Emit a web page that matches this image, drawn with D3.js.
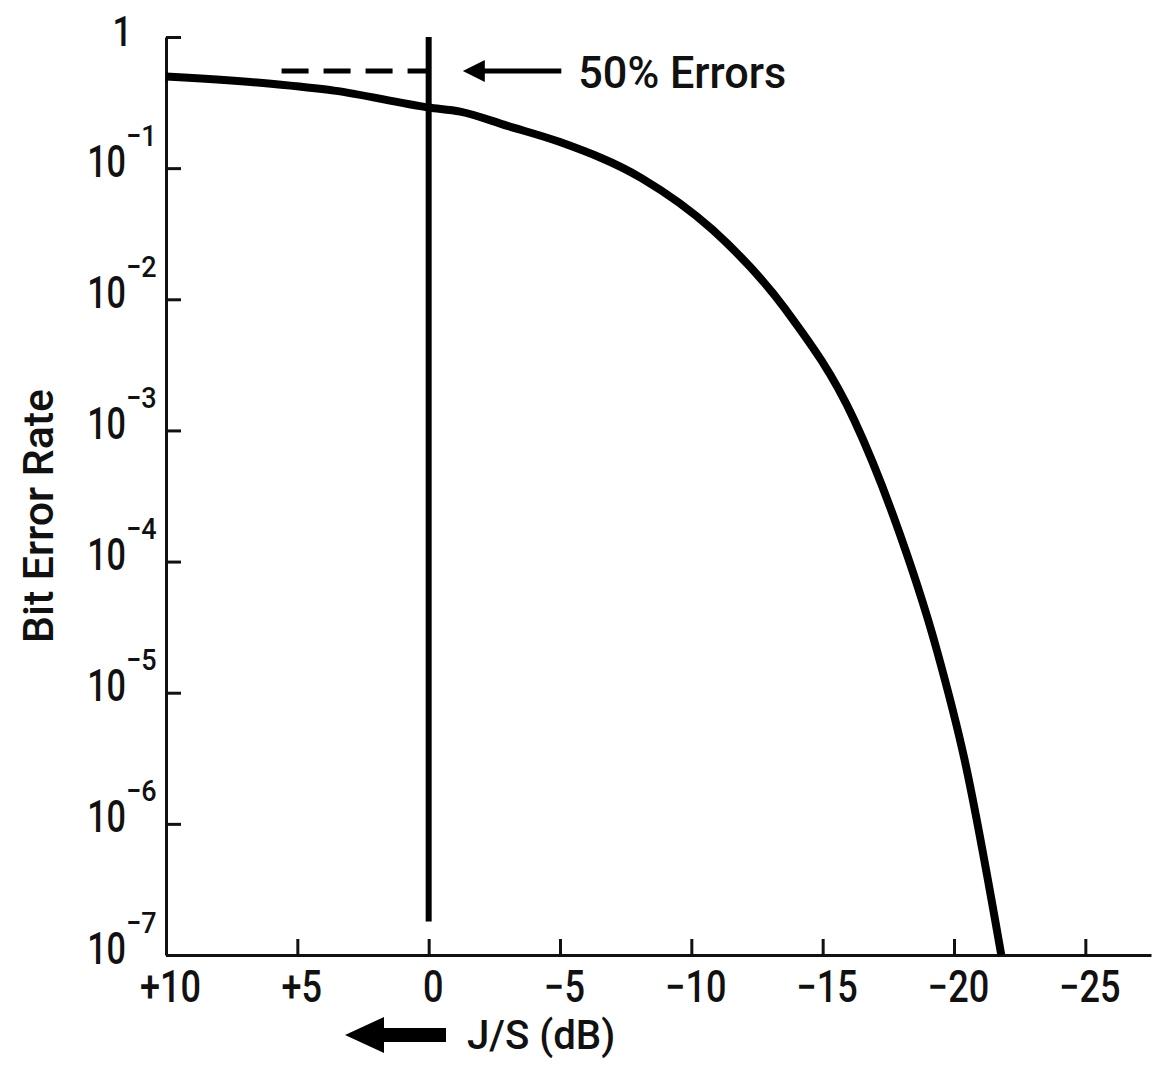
<!DOCTYPE html>
<html>
<head>
<meta charset="utf-8">
<script src="https://cdn.jsdelivr.net/npm/d3@7/dist/d3.min.js"></script>
<style>
  html, body { margin: 0; padding: 0; background: #fff; }
  svg { display: block; }
  text { font-family: Roboto, 'Liberation Sans', sans-serif; font-weight: 500; fill: #111; }
</style>
</head>
<body>
<script>
// ---- data ----
const jsDb = [10, 6, 3.6, 0, -1.2, -3, -5, -8.1, -10.8, -13.6, -16.2, -17.7, -19.35, -20.4, -21.8];
const ber  = [0.5, 0.44, 0.39, 0.29, 0.27, 0.21, 0.158, 0.084, 0.034, 0.0083, 0.0012, 2.2e-4, 2.1e-5, 3.1e-6, 1e-7];
const xTickValues = [10, 5, 0, -5, -10, -15, -20, -25];
const xTickLabels = ["+10", "+5", "0", "\u22125", "\u221210", "\u221215", "\u221220", "\u221225"];
const yTickValues = [1, 1e-1, 1e-2, 1e-3, 1e-4, 1e-5, 1e-6, 1e-7];
const yTickBase   = ["1", "10", "10", "10", "10", "10", "10", "10"];
const yTickExp    = ["", "\u22121", "\u22122", "\u22123", "\u22124", "\u22125", "\u22126", "\u22127"];
const refLineDb = 0;              // vertical line at J/S = 0 dB
const refLineBer = [1, 1.8e-7];   // its extent
const halfLineDb = [5.6, 0];      // dashed 50% errors line
const halfLineBer = 0.55;
const arrowDb = [-1.3, -5.05];    // annotation arrow
const annotText = "50% Errors";
const xTitle = "J/S (dB)";
const yTitle = "Bit Error Rate";

const W = 1166, H = 1075;
const svg = d3.select("body").append("svg").attr("width", W).attr("height", H);

function txt(parent, str, px, py, size, anchor, sx, extra) {
  return parent.append("text")
    .attr("transform", `translate(${px},${py}) ${extra || ""} scale(${sx},1)`)
    .attr("text-anchor", anchor || "start")
    .attr("font-size", size)
    .text(str);
}

const x = d3.scaleLinear().domain([10, -27.5]).range([166, 1151]);
const y = d3.scaleLog().domain([1e-7, 1]).range([955, 37]);

// axes
const gx = svg.append("g").attr("transform", `translate(0,${y(1e-7)})`)
  .call(d3.axisBottom(x).tickValues(xTickValues).tickSizeInner(-16).tickSizeOuter(0).tickFormat(""));
const gy = svg.append("g").attr("transform", `translate(${x(10)},0)`)
  .call(d3.axisLeft(y).tickValues(yTickValues).tickSizeInner(-15).tickSizeOuter(0).tickFormat(""));
[gx, gy].forEach(g => {
  g.select(".domain").attr("stroke", "#111").attr("stroke-width", 3);
  g.selectAll(".tick line").attr("stroke", "#111").attr("stroke-width", 3);
});

// x tick labels
gx.selectAll(".tick").each(function(d, i) {
  txt(d3.select(this), xTickLabels[i], 4, 47, 44, "middle", 0.82);
});
// y tick labels
gy.selectAll(".tick").each(function(d, i) {
  const t = d3.select(this);
  if (yTickExp[i] === "") {
    txt(t, yTickBase[i], -34, 8, 43, "end", 0.8);
  } else {
    txt(t, yTickBase[i], -40, 8, 45, "end", 0.76);
    txt(t, yTickExp[i], -40, -23, 30, "start", 0.9);
  }
});

// reference vertical line
svg.append("line")
  .attr("x1", x(refLineDb)).attr("x2", x(refLineDb))
  .attr("y1", y(refLineBer[0])).attr("y2", y(refLineBer[1]))
  .attr("stroke", "#000").attr("stroke-width", 6);

// dashed 50% line
svg.append("line")
  .attr("x1", x(halfLineDb[0])).attr("x2", x(halfLineDb[1]))
  .attr("y1", y(halfLineBer)).attr("y2", y(halfLineBer))
  .attr("stroke", "#000").attr("stroke-width", 5)
  .attr("stroke-dasharray", "27,15");

// curve
const line = d3.line().x(d => x(d[0])).y(d => y(d[1])).curve(d3.curveMonotoneX);
svg.append("path")
  .datum(jsDb.map((d, i) => [d, ber[i]]))
  .attr("d", line)
  .attr("fill", "none").attr("stroke", "#000").attr("stroke-width", 8)
  .attr("stroke-linejoin", "round");

// annotation arrow
const ax0 = x(arrowDb[0]), ax1 = x(arrowDb[1]), ay = y(halfLineBer);
svg.append("line").attr("x1", ax0 + 15).attr("x2", ax1).attr("y1", ay).attr("y2", ay)
  .attr("stroke", "#000").attr("stroke-width", 5);
svg.append("path")
  .attr("d", `M${ax0},${ay} L${ax0 + 22},${ay - 11} L${ax0 + 22},${ay + 11} Z`)
  .attr("fill", "#000");
txt(svg, annotText, ax1 + 17, ay + 17, 45, "start", 0.96);

// x title with big arrow
svg.append("path")
  .attr("d", `M345,1035 L384,1017 L384,1028 L446,1028 L446,1042 L384,1042 L384,1053 Z`)
  .attr("fill", "#000");
txt(svg, xTitle, 467, 1049, 41, "start", 0.98);

// y title
txt(svg, yTitle, 53, 516, 42, "middle", 1.02, "rotate(-90)");
</script>
</body>
</html>
